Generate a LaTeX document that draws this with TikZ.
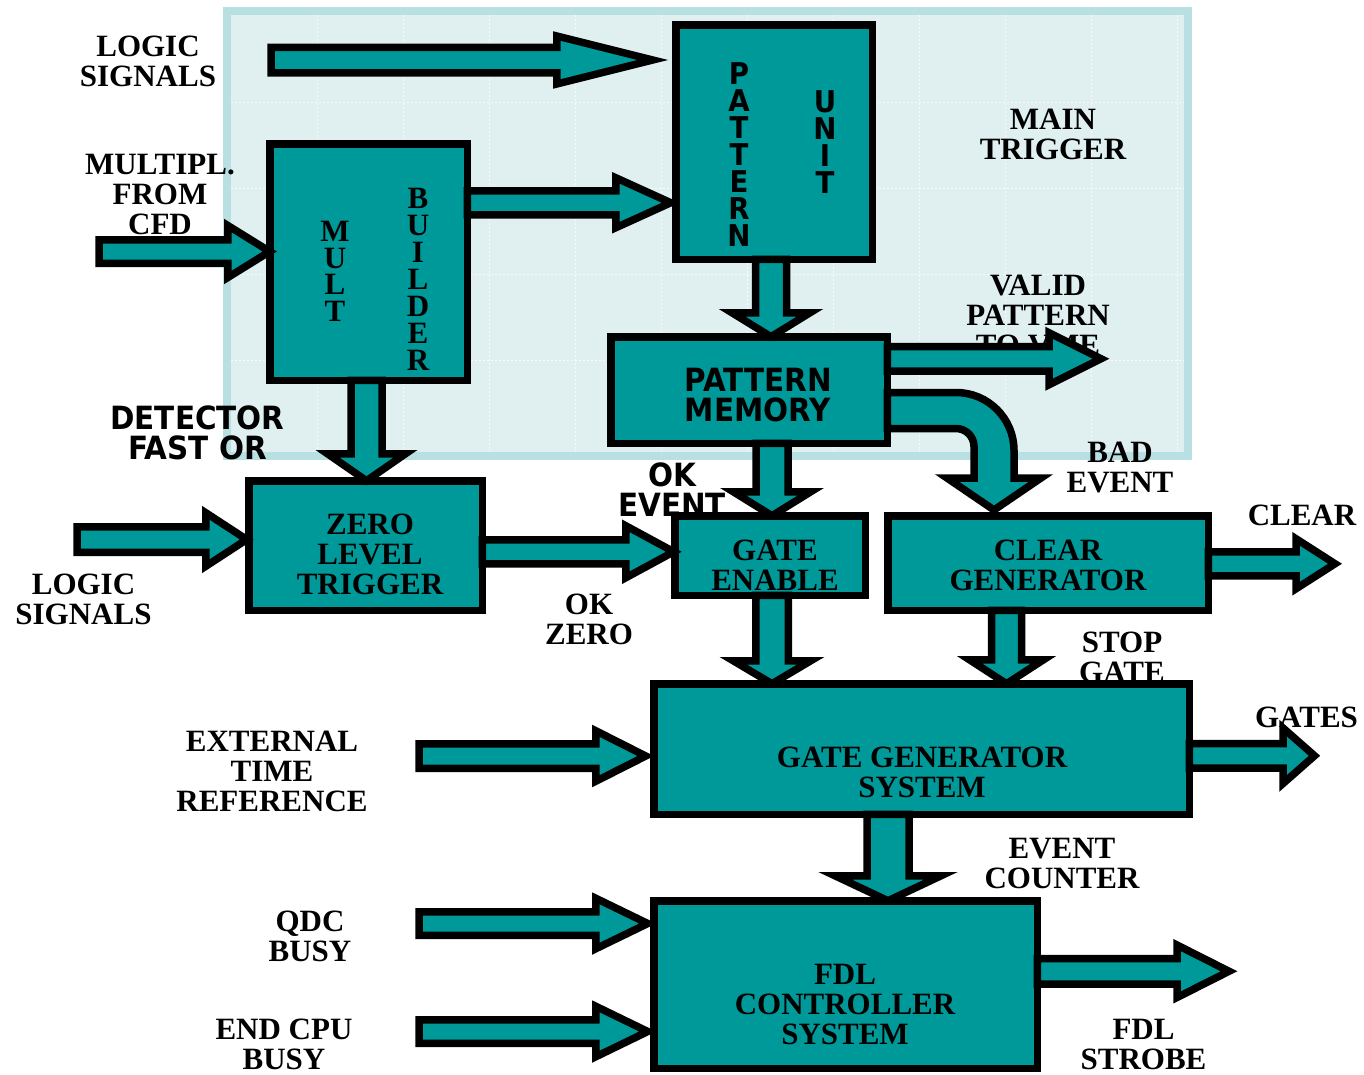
\documentclass[tikz,border=0pt]{standalone}
\usepackage{fontspec}
\setmainfont{Liberation Serif}
\newfontfamily\comicfont{DejaVu Sans}[FakeStretch=0.92]
\usetikzlibrary{calc}
\definecolor{teal1}{RGB}{0,153,153}
\definecolor{bgfill}{RGB}{224,240,241}
\definecolor{bgline}{RGB}{184,224,227}
\tikzset{
 box/.style={draw=black, fill=teal1, line width=7.5, rectangle, inner sep=0, outer sep=0},
 blk/.style={draw=black, fill=teal1, line width=7.5, line join=miter},
 lbl/.style={font=\bfseries\fontsize{31}{30}\selectfont, align=center, inner sep=0, outer sep=0},
 clbl/.style={font=\comicfont\bfseries\fontsize{32}{30}\selectfont, align=center, inner sep=0, outer sep=0},
}
% horizontal block arrow: start, tip, shaft half width, head half width, head length
\newcommand\harrow[5]{%
  \draw[blk] let \p1=#1, \p2=#2 in
   (\x1,\y1+#3pt) -- (\x2-#5pt,\y1+#3pt) -- (\x2-#5pt,\y1+#4pt) -- (\x2,\y1)
   -- (\x2-#5pt,\y1-#4pt) -- (\x2-#5pt,\y1-#3pt) -- (\x1,\y1-#3pt) -- cycle;}
% vertical (downward) block arrow
\newcommand\varrow[5]{%
  \draw[blk] let \p1=#1, \p2=#2 in
   (\x1-#3pt,\y1) -- (\x1-#3pt,\y2+#5pt) -- (\x1-#4pt,\y2+#5pt) -- (\x1,\y2)
   -- (\x1+#4pt,\y2+#5pt) -- (\x1+#3pt,\y2+#5pt) -- (\x1+#3pt,\y1) -- cycle;}
\begin{document}
\begin{tikzpicture}[x=1pt,y=-1pt]
\useasboundingbox (0,0) rectangle (1364,1074);
% background region
\node[draw=bgline, fill=bgfill, line width=7.5, rectangle, minimum width=961, minimum height=445, inner sep=0, outer sep=0] (bg) at (707.5,233.5) {};
\foreach \gx in {317,403,...,1177}
  \draw[white, line width=1, dash pattern=on 2 off 2, opacity=0.7] (\gx,15) -- (\gx,452);
\foreach \gy in {102,188,274,360}
  \draw[white, line width=1, dash pattern=on 2 off 2, opacity=0.7] (231,\gy) -- (1184,\gy);

% free labels
\node[lbl] (l-logic1) at (148,61) {LOGIC\\SIGNALS};
\node[lbl] (l-mult) at (160,194.5) {MULTIPL.\\FROM\\CFD};
\node[lbl] (l-main) at (1053,134) {MAIN\\TRIGGER};
\node[lbl] (l-valid) at (1038,315) {VALID\\PATTERN\\TO VME};
\node[clbl] (l-det) at (197.5,432.5) {DETECTOR\\FAST OR};
\node[clbl] (l-okev) at (672,490) {OK\\EVENT};
\node[lbl] (l-bad) at (1120,467.5) {BAD\\EVENT};
\node[lbl] (l-clear) at (1302,515) {CLEAR};
\node[lbl] (l-logic2) at (83.5,599) {LOGIC\\SIGNALS};
\node[lbl] (l-okz) at (589,619) {OK\\ZERO};
\node[lbl] (l-stop) at (1122,657) {STOP\\GATE};
\node[lbl] (l-gates) at (1306.5,717.5) {GATES};
\node[lbl] (l-ext) at (272,771) {EXTERNAL\\TIME\\REFERENCE};
\node[lbl] (l-evc) at (1062,863.5) {EVENT\\COUNTER};
\node[lbl] (l-qdc) at (310,936) {QDC\\BUSY};
\node[lbl] (l-cpu) at (284,1044) {END CPU\\BUSY};
\node[lbl] (l-fdls) at (1143.5,1044) {FDL\\STROBE};

% boxes
\node[box, minimum width=196.5, minimum height=234.5] (pu) at (774,142) {};
\node[box, minimum width=197.5, minimum height=236.5] (mb) at (368.5,262) {};
\node[box, minimum width=276.5, minimum height=106.5] (pm) at (749,390) {};
\node[box, minimum width=233.5, minimum height=129.5] (zlt) at (365.5,545.5) {};
\node[box, minimum width=190.5, minimum height=79.5] (ge) at (770,555.5) {};
\node[box, minimum width=320.5, minimum height=94.5] (cg) at (1048,563) {};
\node[box, minimum width=535.5, minimum height=130.5] (gg) at (921.5,749) {};
\node[box, minimum width=383.5, minimum height=167.5] (fdl) at (845.5,984.5) {};

% box texts
\node[clbl, font=\comicfont\bfseries\fontsize{30}{27}\selectfont] (pu-t1) at (739,155) {P\\A\\T\\T\\E\\R\\N};
\node[clbl, font=\comicfont\bfseries\fontsize{30}{27}\selectfont] (pu-t2) at (825,142) {U\\N\\I\\T};
\node[lbl, font=\bfseries\fontsize{31}{26.5}\selectfont] (mb-t1) at (335,271.5) {M\\U\\L\\T};
\node[lbl, font=\bfseries\fontsize{31}{27}\selectfont] (mb-t2) at (418,279.5) {B\\U\\I\\L\\D\\E\\R};
\node[clbl] (pm-t) at (758,395) {PATTERN\\MEMORY};
\node[lbl] (zlt-t) at (370,554.5) {ZERO\\LEVEL\\TRIGGER};
\node[lbl] (ge-t) at (775,565) {GATE\\ENABLE};
\node[lbl] (cg-t) at (1048,565.5) {CLEAR\\GENERATOR};
\node[lbl] (gg-t) at (922,772.5) {GATE GENERATOR\\SYSTEM};
\node[lbl] (fdl-t) at (845,1004.5) {FDL\\CONTROLLER\\SYSTEM};

% free arrow ends
\coordinate (a1s) at (271,60);
\coordinate (a3s) at (99,251.5);
\coordinate (a6s) at (77,539.5);
\coordinate (a9e) at (1101,359);
\coordinate (a11e) at (1335,564);
\coordinate (a14s) at (419,756);
\coordinate (a15e) at (1314.5,756);
\coordinate (a17s) at (419,923.5);
\coordinate (a18s) at (419,1031.5);
\coordinate (a19e) at (1229,971);

% arrows
\harrow{(a1s)}{([xshift=-23]pu.west)}{12.75}{24}{96}
\harrow{($(mb.north east)+(0,59)$)}{([xshift=-5]pu.west)}{12}{25}{55}
\harrow{(a3s)}{(mb.west)}{11.75}{26}{42}
\varrow{($(pu.south)+(-3,0)$)}{(pm.north)}{15.5}{39}{24}
\varrow{($(mb.south)+(-2,0)$)}{(zlt.north)}{15.5}{39}{27}
\harrow{(a6s)}{([xshift=-2]zlt.west)}{12.75}{26.75}{41}
\harrow{($(zlt.north east)+(0,71)$)}{([xshift=-1]ge.west)}{12}{26}{48}
\varrow{($(pm.south)+(23,0)$)}{(ge.north)}{16}{38.75}{24}
\harrow{($(pm.north east)+(0,22)$)}{(a9e)}{12.25}{26}{52}
\draw[blk] ([yshift=-2.5]pm.east) -- ++(68.75,0) arc(-90:0:58) -- ++(0,27.5) -- ++(27,0)
  -- ++(-47,32) -- ++(-47,-32) -- ++(27,0) -- ++(0,-31.5) arc(0:-90:18) -- ++(-68.75,0) -- cycle;
\harrow{($(cg.north east)+(0,48)$)}{(a11e)}{12}{25}{39}
\varrow{($(ge.south)+(2,0)$)}{(gg.north)}{16.25}{38.75}{23}
\varrow{($(cg.south)+(-41.5,0)$)}{(gg.north)}{15}{37}{24}
\harrow{(a14s)}{([xshift=-8]gg.west)}{12.25}{25.25}{50}
\harrow{($(gg.north east)+(0,72)$)}{(a15e)}{12.25}{27.75}{31.5}
\varrow{($(gg.south)+(-33.5,0)$)}{(fdl.north)}{21}{53}{25}
\harrow{(a17s)}{([xshift=-6]fdl.west)}{11.75}{25.25}{52}
\harrow{(a18s)}{([xshift=-6]fdl.west)}{11.75}{25.25}{52}
\harrow{($(fdl.north east)+(0,70.5)$)}{(a19e)}{12.75}{26.25}{52}
\end{tikzpicture}
\end{document}
